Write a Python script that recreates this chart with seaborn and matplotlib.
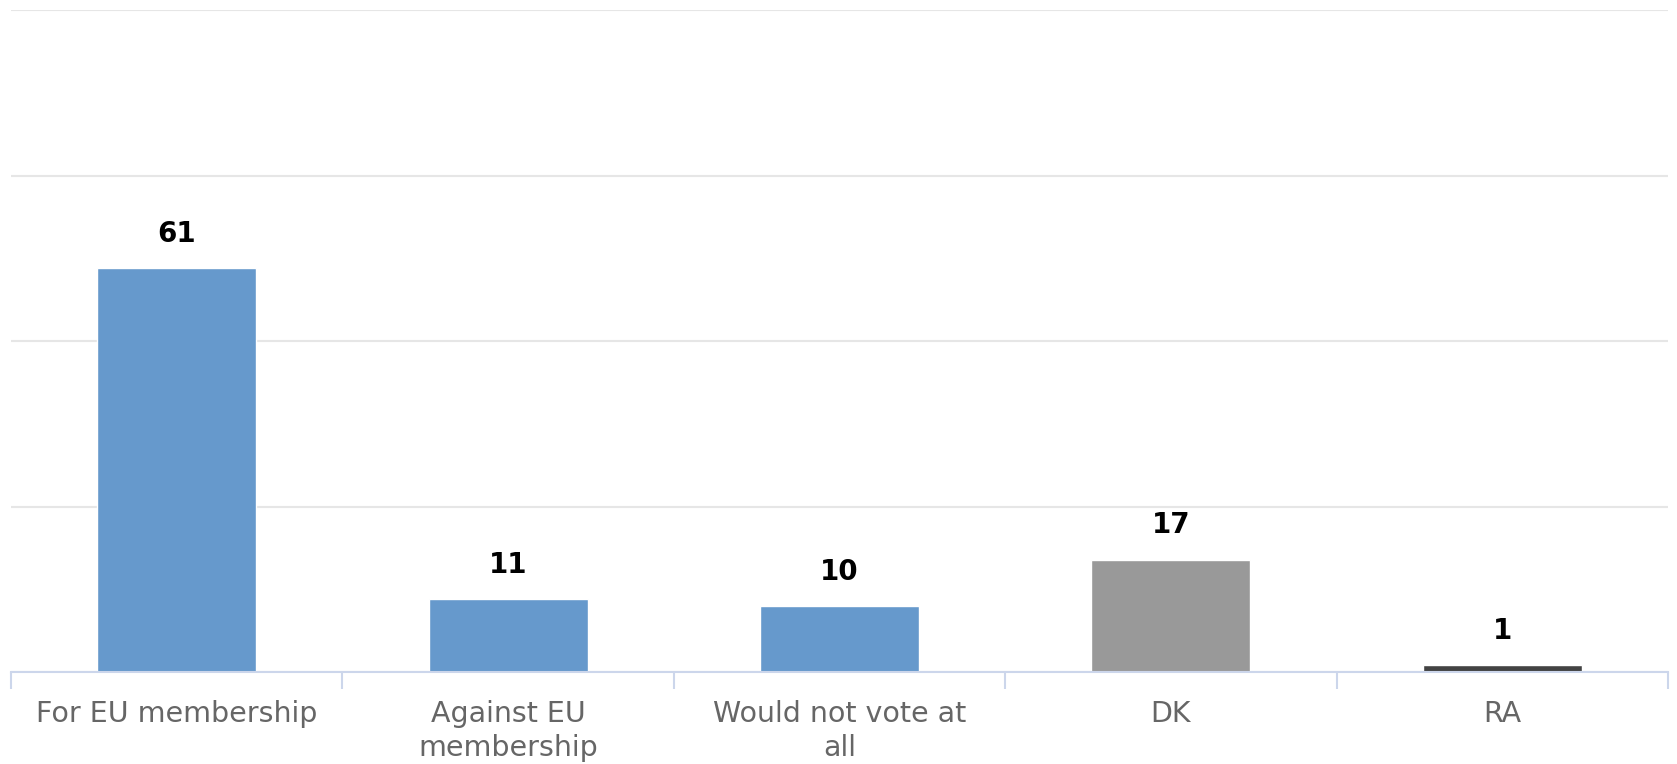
import matplotlib
matplotlib.use("Agg")
import matplotlib.pyplot as plt
import seaborn as sns
import pandas as pd
from matplotlib.ticker import FixedLocator

categories = ["For EU membership", "Against EU\nmembership", "Would not vote at\nall", "DK", "RA"]
values = [61, 11, 10, 17, 1]
colors = ["#6699cc", "#6699cc", "#6699cc", "#999999", "#434343"]

sns.set_theme(style="white")
plt.rcParams['font.family'] = ['DejaVu Sans']

df = pd.DataFrame({"cat": categories, "val": values})

fig = plt.figure(figsize=(16.77, 7.64), dpi=100)
ax = fig.add_axes([0.0066, 0.1204, 0.988, 0.866])

sns.barplot(data=df, x="cat", y="val", hue="cat", palette=colors, legend=False,
            width=0.48, ax=ax, saturation=1)

ax.set_ylim(0, 100)
ax.set_xlim(-0.5, len(categories) - 0.5)
ax.set_yticks([0, 25, 50, 75, 100])
ax.yaxis.grid(True, color="#e6e6e6", linewidth=1.5)
ax.set_axisbelow(True)
ax.set_yticklabels([])
ax.tick_params(axis="y", length=0)

for s in ["top", "right", "left"]:
    ax.spines[s].set_visible(False)
ax.spines["bottom"].set_color("#ccd6eb")
ax.spines["bottom"].set_linewidth(1.5)

ax.xaxis.set_minor_locator(FixedLocator([i - 0.5 for i in range(len(categories) + 1)]))
ax.tick_params(axis="x", which="minor", length=12, width=1.5, color="#ccd6eb", direction="out", bottom=True)
ax.tick_params(axis="x", which="major", length=0, pad=20, labelsize=20.5, labelcolor="#666666")
for lbl in ax.get_xticklabels():
    lbl.set_linespacing(1.28)
ax.set_xlabel("")
ax.set_ylabel("")

for i, v in enumerate(values):
    ax.annotate(str(v), (i, v), xytext=(0, 14.5), textcoords="offset points",
                ha="center", va="bottom", fontsize=20, fontweight="bold", color="#000000")

fig.savefig("out.png", dpi=100)
